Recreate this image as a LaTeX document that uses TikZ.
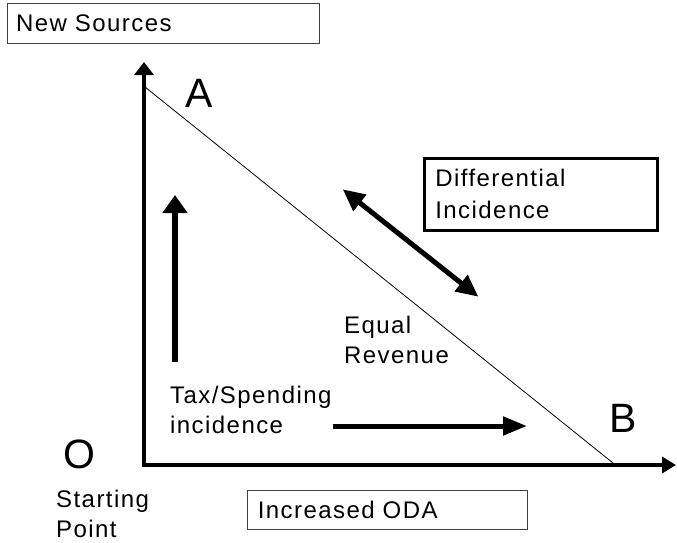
\documentclass[tikz,border=0pt]{standalone}
\usepackage{fontspec}
\setmainfont{Liberation Sans}[LetterSpace=6]
\usetikzlibrary{arrows.meta}
\begin{document}
\begin{tikzpicture}[x=1pt,y=-1pt,
  txt/.style={inner sep=0pt, align=left, anchor=north west, font=\fontsize{24}{30}\selectfont},
  big/.style={inner sep=0pt, anchor=base west, font=\fontsize{41}{41}\selectfont},
  box/.style={draw=black!75, line width=1.2pt, anchor=north west, align=left,
    font=\fontsize{24}{27}\selectfont, inner ysep=0pt},
  axis/.style={line width=4pt, {Triangle[length=13pt,width=19pt]}-{Triangle[length=14pt,width=16pt]}},
  fat/.style={line width=5pt},
]
\useasboundingbox (0,0) rectangle (677,543);

% boxes
\node[box, minimum width=312pt, minimum height=40pt, text width=295pt, inner xsep=8.5pt] (ns) at (7,3) {New Sources};
\node[box, minimum width=280pt, minimum height=39pt, text width=259pt, inner xsep=10.5pt] (oda) at (246.7,490) {Increased ODA};
\node[box, draw=black, line width=2.7pt, minimum width=233pt, minimum height=72pt, text width=211pt, inner xsep=11pt,
  font=\fontsize{24}{32}\selectfont] (di) at (423,157) {Differential\\Incidence};

% axes
\coordinate (Y) at (144,62);
\coordinate (O) at (144,465);
\coordinate (X) at (676,465);
\draw[axis] (Y) -- (O) -- (X);

% equal revenue line
\coordinate (dA) at (145,87);
\coordinate (dB) at (613,463);
\draw[line width=0.8pt] (dA) -- (dB);

% arrows
\coordinate (u1) at (175,362);
\coordinate (u2) at (175,195);
\draw[line width=6pt, -{Triangle[length=18pt,width=24pt]}] (u1) -- (u2);
\coordinate (r1) at (333,426);
\coordinate (r2) at (527,426);
\draw[fat, -{Triangle[length=24pt,width=18pt]}] (r1) -- (r2);
\coordinate (d1) at (342.7,189.3);
\coordinate (d2) at (478.3,296.7);
\draw[fat, {Triangle[length=22pt,width=20pt]}-{Triangle[length=22pt,width=20pt]}] (d1) -- (d2);

% labels
\node[big] (la) at (185,107) {A};
\node[big] (lb) at (609,432) {B};
\node[big] (lo) at (63,468) {O};
\node[txt] (sp) at (56,490) {Starting\\Point};
\node[txt] (er) at (344,316) {Equal\\Revenue};
\node[txt] (ts) at (170,386) {Tax/Spending\\incidence};
\end{tikzpicture}
\end{document}
